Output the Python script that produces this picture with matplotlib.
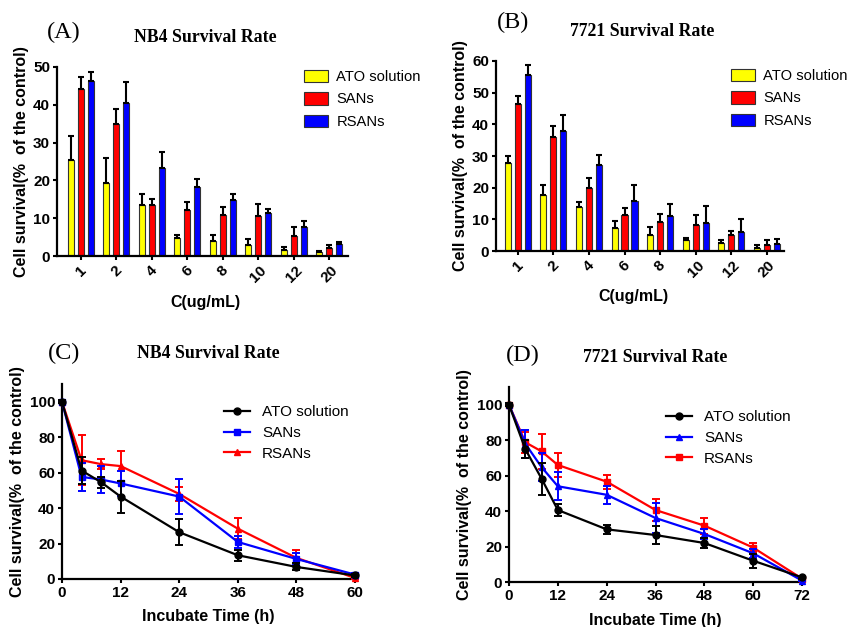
import matplotlib
matplotlib.use("Agg")
import matplotlib.pyplot as plt
from matplotlib.lines import Line2D
import numpy as np

# ---------------- data ----------------
conc_labels = ["1", "2", "4", "6", "8", "10", "12", "20"]
series_names = ["ATO solution", "SANs", "RSANs"]
bar_colors = ["#ffff00", "#ff0000", "#0000ff"]

# Panel A: NB4
a_ato = [25.4, 19.4, 13.6, 4.7, 3.9, 3.0, 1.6, 1.0]
a_ato_err = [6.4, 6.4, 2.9, 0.8, 1.6, 1.4, 0.9, 0.2]
a_sans = [44.2, 34.8, 13.6, 12.2, 10.8, 10.7, 5.3, 2.1]
a_sans_err = [3.2, 4.0, 1.5, 2.1, 2.2, 3.0, 2.5, 0.8]
a_rsans = [46.2, 40.5, 23.4, 18.2, 14.7, 11.4, 7.7, 3.3]
a_rsans_err = [2.6, 5.5, 4.2, 2.2, 1.8, 1.1, 1.6, 0.4]

# Panel B: 7721
b_ato = [27.7, 17.6, 14.0, 7.4, 5.1, 3.4, 2.5, 1.1]
b_ato_err = [2.4, 3.4, 1.6, 2.2, 2.5, 0.8, 1.1, 0.9]
b_sans = [46.4, 36.1, 19.8, 11.3, 9.2, 8.2, 4.9, 1.9]
b_sans_err = [2.4, 3.5, 3.1, 2.4, 2.4, 3.1, 1.5, 1.5]
b_rsans = [55.7, 37.8, 27.3, 15.9, 11.1, 9.0, 6.1, 2.1]
b_rsans_err = [3.1, 5.1, 3.0, 5.1, 3.6, 5.1, 4.0, 1.7]

# Panel C: NB4 time course
c_time = [0, 4, 8, 12, 24, 36, 48, 60]
c_ato = [100, 61.2, 54.6, 46.5, 26.4, 13.4, 6.8, 2.0]
c_ato_err = [0.8, 7.5, 3.0, 9.0, 7.5, 3.0, 2.0, 1.0]
c_sans = [100, 57.6, 56.1, 53.9, 46.5, 20.9, 11.3, 2.5]
c_sans_err = [0.8, 7.8, 7.5, 7.0, 10.0, 3.5, 3.5, 1.0]
c_rsans = [100, 67.0, 64.8, 63.7, 48.0, 28.4, 11.9, 0.6]
c_rsans_err = [0.8, 14.0, 3.0, 8.5, 4.0, 6.0, 4.5, 0.5]

# Panel D: 7721 time course
d_time = [0, 4, 8, 12, 24, 36, 48, 60, 72]
d_ato = [100, 75.0, 58.3, 40.6, 29.7, 26.5, 22.0, 12.0, 2.6]
d_ato_err = [0.8, 5.0, 9.0, 3.5, 2.5, 5.0, 3.0, 4.0, 1.0]
d_sans = [100, 78.0, 64.8, 54.0, 49.2, 36.1, 27.1, 16.2, 0.8]
d_sans_err = [0.8, 8.0, 8.0, 8.0, 5.0, 8.5, 3.0, 2.5, 0.5]
d_rsans = [100, 78.8, 73.7, 66.0, 56.6, 40.6, 31.8, 19.4, 1.9]
d_rsans_err = [0.8, 6.0, 10.0, 6.5, 4.0, 6.0, 4.5, 2.5, 0.5]

# ---------------- style ----------------
SANS = "Liberation Sans"
SERIF = "Liberation Serif"
plt.rcParams["font.family"] = [SANS, "DejaVu Sans"]

fig = plt.figure(figsize=(8.52, 6.27), dpi=100)
W, H = 852, 627
YLABEL = "Cell survival(%  of the control)"
TAG_SIZE = 17.5
TITLE_SIZE = 12.8


def fx(px):
    return px / W


def fy(py):
    return 1 - py / H


def style_axes(ax):
    for s in ["top", "right"]:
        ax.spines[s].set_visible(False)
    for s in ["left", "bottom"]:
        ax.spines[s].set_linewidth(1.6)
    ax.tick_params(axis="both", width=1.5, length=3, pad=2, direction="out",
                   labelsize=11)
    for lab in ax.get_xticklabels() + ax.get_yticklabels():
        lab.set_fontweight("bold")


def bar_panel(rect, data, errs, ymax, ystep, xlim, title, tag, tag_xy, title_xy,
              xlabel_xy, leg_xy):
    ax = fig.add_axes(rect)
    x = np.arange(len(conc_labels))
    off = 0.28
    width = 0.17
    for i, (vals, err) in enumerate(zip(data, errs)):
        pos = x + (i - 1) * off
        ax.bar(pos, vals, width=width, color=bar_colors[i], edgecolor="#333333",
               linewidth=0.8, label=series_names[i], zorder=2)
        ax.errorbar(pos, vals, yerr=[np.zeros(len(vals)), err], fmt="none",
                    ecolor="black", elinewidth=1.5, capsize=2.5, capthick=1.5,
                    zorder=3)
    ax.set_xlim(*xlim)
    ax.set_ylim(0, ymax)
    ax.set_yticks(np.arange(0, ymax + 0.1, ystep))
    ax.set_xticks(x)
    ax.set_xticklabels(conc_labels, rotation=45, ha="center", va="top")
    ax.set_ylabel(YLABEL, fontsize=11.5, fontweight="bold", labelpad=3)
    style_axes(ax)
    fig.text(fx(xlabel_xy[0]), fy(xlabel_xy[1]), "C(ug/mL)", ha="center",
             va="center", fontsize=11.5, fontweight="bold")
    fig.text(fx(tag_xy[0]), fy(tag_xy[1]), tag, ha="center", va="center",
             fontsize=TAG_SIZE, family=SERIF)
    fig.text(fx(title_xy[0]), fy(title_xy[1]), title, ha="center", va="center",
             fontsize=TITLE_SIZE, family=SERIF, fontweight="bold")
    fig.legend(*ax.get_legend_handles_labels(), loc="upper left",
               bbox_to_anchor=(fx(leg_xy[0]), fy(leg_xy[1])), frameon=False,
               fontsize=10.6, handlelength=1.6, handleheight=0.9,
               handletextpad=0.6, labelspacing=0.55, borderaxespad=0,
               borderpad=0)
    return ax


bar_panel([fx(57), fy(256), fx(347.7) - fx(57), fy(67) - fy(256)],
          [a_ato, a_sans, a_rsans], [a_ato_err, a_sans_err, a_rsans_err],
          50, 10, (-0.67, 7.52), "NB4 Survival Rate", "(A)", (64, 32),
          (205, 38), (205, 303), (304, 70))

bar_panel([fx(496), fy(251), fx(784) - fx(496), fy(61) - fy(251)],
          [b_ato, b_sans, b_rsans], [b_ato_err, b_sans_err, b_rsans_err],
          60, 10, (-0.61, 7.48), "7721 Survival Rate", "(B)", (513, 22),
          (642, 32), (633, 296), (731, 69))


def line_panel(rect, t, data, errs, markers, xmax, title, tag, tag_xy,
               title_xy, xlabel_xy, leg_xy):
    ax = fig.add_axes(rect)
    colors = ["black", "#0000ff", "#ff0000"]
    handles = []
    for i, (vals, err) in enumerate(zip(data, errs)):
        ax.errorbar(t, vals, yerr=err, color=colors[i], marker=markers[i],
                    markersize=5, linewidth=1.6, elinewidth=1.4, capsize=3,
                    capthick=1.4, zorder=3 + (2 - i), clip_on=False)
        handles.append(Line2D([], [], color=colors[i], marker=markers[i],
                              markersize=5, linewidth=1.6))
    ax.set_xlim(0, xmax)
    ax.set_ylim(0, 110)
    ax.set_yticks(np.arange(0, 101, 20))
    ax.set_xticks(np.arange(0, xmax + 1, 12))
    ax.set_ylabel(YLABEL, fontsize=11.5, fontweight="bold", labelpad=3)
    style_axes(ax)
    fig.text(fx(xlabel_xy[0]), fy(xlabel_xy[1]), "Incubate Time (h)",
             ha="center", va="center", fontsize=11.5, fontweight="bold")
    fig.text(fx(tag_xy[0]), fy(tag_xy[1]), tag, ha="center", va="center",
             fontsize=TAG_SIZE, family=SERIF)
    fig.text(fx(title_xy[0]), fy(title_xy[1]), title, ha="center", va="center",
             fontsize=TITLE_SIZE, family=SERIF, fontweight="bold")
    fig.legend(handles, series_names, loc="upper left",
               bbox_to_anchor=(fx(leg_xy[0]), fy(leg_xy[1])), frameon=False,
               fontsize=11, handlelength=1.7, handletextpad=0.8,
               labelspacing=0.45, borderaxespad=0, borderpad=0)
    return ax


line_panel([fx(62), fy(579), fx(355) - fx(62), fy(384) - fy(579)],
           c_time, [c_ato, c_sans, c_rsans],
           [c_ato_err, c_sans_err, c_rsans_err], ["o", "s", "^"], 60,
           "NB4 Survival Rate", "(C)", (64, 353), (208, 354), (208, 617),
           (224, 405))

line_panel([fx(509), fy(582), fx(802) - fx(509), fy(387) - fy(582)],
           d_time, [d_ato, d_sans, d_rsans],
           [d_ato_err, d_sans_err, d_rsans_err], ["o", "^", "s"], 72,
           "7721 Survival Rate", "(D)", (523, 355), (655, 357), (655, 620),
           (666, 410))

fig.savefig("out.png", dpi=100)
